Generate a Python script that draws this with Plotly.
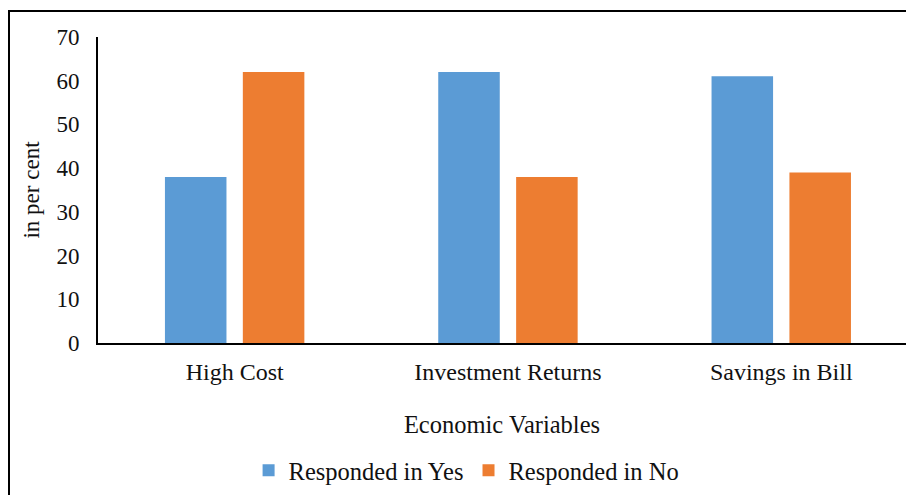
import plotly.graph_objects as go

# Survey responses on economic variables (per cent)
categories = ["High Cost", "Investment Returns", "Savings in Bill"]
responded_yes = [38, 62, 61]
responded_no = [62, 38, 39]
y_ticks = [0, 10, 20, 30, 40, 50, 60, 70]

BLUE = "#5B9BD5"
ORANGE = "#ED7D31"
FONT = "Liberation Serif, Times New Roman, serif"
INK = "#111111"

W, H = 906, 495
ML, MR, MT, MB = 98, 0, 37, 152

fig = go.Figure()
fig.add_trace(go.Bar(name="Responded in Yes", x=list(range(len(categories))),
                     y=responded_yes, marker_color=BLUE, marker_line_width=0))
fig.add_trace(go.Bar(name="Responded in No", x=list(range(len(categories))),
                     y=responded_no, marker_color=ORANGE, marker_line_width=0))

# outer frame of the chart area (left and top edges visible)
pw = W - ML - MR
ph = H - MT - MB
frame_left = (9 - ML) / pw
frame_top = (H - MB - 11) / ph
fig.add_shape(type="rect", xref="paper", yref="paper",
              x0=frame_left, x1=1.05, y0=-0.7, y1=frame_top,
              line=dict(color="black", width=2), fillcolor="rgba(0,0,0,0)",
              layer="above")

fig.update_layout(
    width=W, height=H,
    margin=dict(l=ML, r=MR, t=MT, b=MB, pad=0),
    paper_bgcolor="white", plot_bgcolor="white",
    barmode="group", bargap=0.43, bargroupgap=0.21,
    font=dict(family=FONT, color=INK, size=24),
    showlegend=True,
    legend=dict(orientation="h", xref="container", yref="container",
                x=0.515, xanchor="center", y=0.05, yanchor="middle",
                font=dict(size=24.5, family=FONT, color=INK),
                itemclick=False, traceorder="normal"),
)

fig.update_xaxes(
    tickmode="array", tickvals=list(range(len(categories))), ticktext=categories,
    range=[-0.5, -0.5 + pw / 273.3],
    showline=True, linecolor="black", linewidth=2,
    showgrid=False, zeroline=False, ticks="",
    ticklabelstandoff=6,
    tickfont=dict(size=24, family=FONT, color=INK),
    title=dict(text="Economic Variables", font=dict(size=24.5, family=FONT, color=INK),
               standoff=32),
)
fig.update_yaxes(
    range=[0, 70], tickmode="array", tickvals=y_ticks,
    showline=True, linecolor="black", linewidth=2,
    showgrid=False, zeroline=False, ticks="",
    ticklabelstandoff=12,
    tickfont=dict(size=23, family=FONT, color=INK),
    title=dict(text="in per cent", font=dict(size=23, family=FONT, color=INK),
               standoff=10),
)

fig.write_html("out.html")
